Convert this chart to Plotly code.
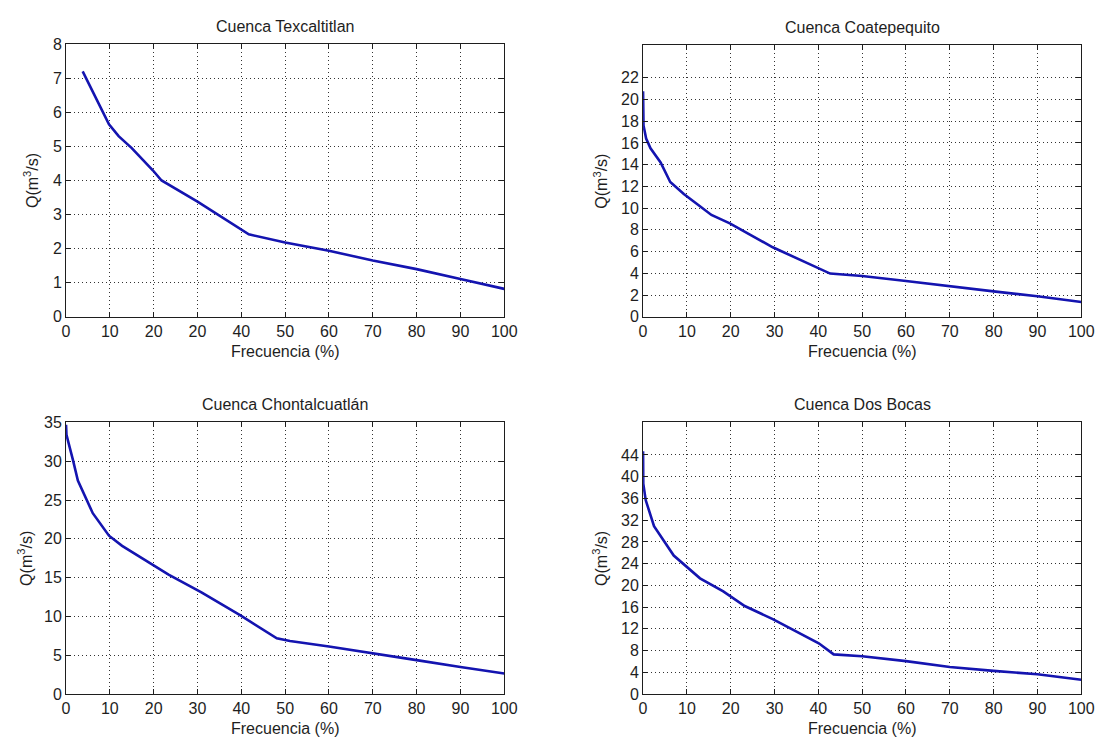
import plotly.graph_objects as go

W, H = 1111, 749

# ---- data ----
titles = ["Cuenca Texcaltitlan", "Cuenca Coatepequito", "Cuenca Chontalcuatlán", "Cuenca Dos Bocas"]

tex_x = [3.8, 9.8, 12, 15, 19.8, 21.8, 30, 41.7, 50, 60, 70, 80, 90, 100]
tex_y = [7.2, 5.65, 5.3, 4.95, 4.3, 4.0, 3.38, 2.42, 2.18, 1.94, 1.65, 1.40, 1.11, 0.82]

coa_x = [0, 0.1, 0.7, 1.7, 4.0, 6.2, 9.3, 15.6, 19.8, 29.6, 42.7, 50, 60, 70, 80, 90, 100]
coa_y = [20.75, 17.6, 16.4, 15.5, 14.2, 12.4, 11.3, 9.37, 8.6, 6.4, 3.98, 3.75, 3.3, 2.79, 2.34, 1.89, 1.37]

cho_x = [0, 0.1, 1.6, 2.7, 6.1, 9.8, 12.8, 17.3, 23.4, 30.9, 39.9, 48.1, 51.1, 60, 70, 80, 90, 100]
cho_y = [34.7, 33.4, 30.1, 27.5, 23.3, 20.4, 19.1, 17.5, 15.4, 13.1, 10.1, 7.18, 6.84, 6.13, 5.29, 4.37, 3.49, 2.64]

dos_x = [0, 0.05, 0.6, 2.5, 7, 13, 18.3, 23.2, 29.6, 40.1, 43.5, 50, 60, 70, 80, 90, 100]
dos_y = [44.7, 38.7, 35.7, 30.9, 25.5, 21.3, 18.9, 16.2, 13.8, 9.35, 7.3, 6.96, 6.06, 4.98, 4.26, 3.65, 2.64]

x_ticks = [0, 10, 20, 30, 40, 50, 60, 70, 80, 90, 100]
x_ticktext_tex = ["0", "10", "20", "20", "40", "50", "60", "70", "80", "90", "100"]
x_ticktext = ["0", "10", "20", "30", "40", "50", "60", "70", "80", "90", "100"]

y_ranges = [[0, 8], [0, 25], [0, 35], [0, 50]]
y_ticks = [
    [0, 1, 2, 3, 4, 5, 6, 7, 8],
    [0, 2, 4, 6, 8, 10, 12, 14, 16, 18, 20, 22],
    [0, 5, 10, 15, 20, 25, 30, 35],
    [0, 4, 8, 12, 16, 20, 24, 28, 32, 36, 40, 44],
]

series = [(tex_x, tex_y), (coa_x, coa_y), (cho_x, cho_y), (dos_x, dos_y)]

# ---- layout geometry (pixels) ----
boxes = [  # left, right, top, bottom
    (63, 508, 37, 316),
    (649, 1094, 38, 316),
    (63, 508, 424, 702),
    (649, 1094, 424, 702),
]

FONT = "Liberation Sans, Arial, Helvetica, sans-serif"
LINE = "#1414b0"
AX = "#1e1e1e"
TXT = "#1e1e1e"

fig = go.Figure()
layout = dict(
    width=W, height=H,
    margin=dict(l=0, r=0, t=0, b=0),
    paper_bgcolor="white", plot_bgcolor="white",
    showlegend=False,
    font=dict(family=FONT, size=16, color=TXT),
    annotations=[],
)

for i, ((xs, ys), (l, r, t, b)) in enumerate(zip(series, boxes)):
    n = "" if i == 0 else str(i + 1)
    fig.add_trace(go.Scatter(x=xs, y=ys, mode="lines",
                             line=dict(color=LINE, width=2.6),
                             xaxis="x" + n, yaxis="y" + n))
    common = dict(
        showline=True, linecolor=AX, linewidth=1, mirror="ticks",
        ticks="inside", ticklen=5, tickcolor=AX, tickwidth=1,
        showgrid=True, gridcolor="#333333", gridwidth=1, griddash="1px,3px",
        zeroline=False, tickfont=dict(family=FONT, size=16, color=TXT),
        fixedrange=True,
    )
    layout["xaxis" + n] = dict(
        common, domain=[l / W, r / W], range=[0, 100],
        tickmode="array", tickvals=x_ticks,
        ticktext=x_ticktext_tex if i == 0 else x_ticktext,
        anchor="y" + n,
    )
    layout["yaxis" + n] = dict(
        common, domain=[1 - b / H, 1 - t / H], range=y_ranges[i],
        tickmode="array", tickvals=y_ticks[i],
        anchor="x" + n,
    )
    cx = (l + r) / 2
    layout["annotations"].append(dict(
        text=titles[i], x=cx / W, y=1 - (t - 18) / H, xref="paper", yref="paper",
        showarrow=False, xanchor="center", yanchor="middle",
        font=dict(family=FONT, size=16, color=TXT)))
    layout["annotations"].append(dict(
        text="Frecuencia (%)", x=cx / W, y=1 - (b + 35) / H, xref="paper", yref="paper",
        showarrow=False, xanchor="center", yanchor="middle",
        font=dict(family=FONT, size=16, color=TXT)))
    ylx = [28, 606, 22, 606][i]
    layout["annotations"].append(dict(
        text="Q(m<sup>3</sup>/s)", x=ylx / W, y=1 - ((t + b) / 2) / H, xref="paper", yref="paper",
        showarrow=False, xanchor="center", yanchor="middle", textangle=-90,
        font=dict(family=FONT, size=16, color=TXT)))

fig.update_layout(**layout)
fig.write_html("out.html", config={"displayModeBar": False},
               post_script="document.body.style.margin='0';document.body.style.overflow='hidden';")
